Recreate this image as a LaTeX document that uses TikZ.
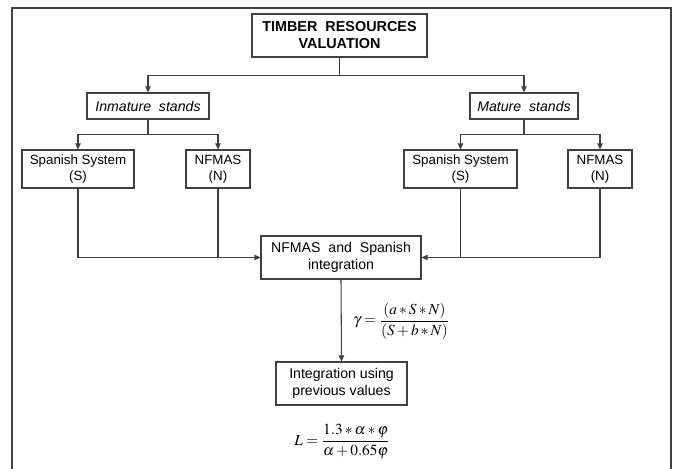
\documentclass[tikz,border=0pt]{standalone}
\usepackage{mathptmx}
\usepackage{fontspec}
\setsansfont{Liberation Sans}
\usetikzlibrary{arrows.meta}
\definecolor{linec}{HTML}{404040}
\tikzset{
  box/.style={draw=linec, line width=0.8pt, fill=white, inner sep=0pt, align=center,
    font=\sffamily\fontsize{10.6}{12.75}\selectfont, text=black},
  sbox/.style={box, font=\sffamily\fontsize{10}{12}\selectfont},
  conn/.style={draw=linec, line width=0.8pt},
  arr/.style={conn, -{Triangle[length=4.5pt,width=4pt]}},
  frm/.style={draw=linec, line width=1pt},
  formula/.style={inner sep=0pt, font=\fontsize{11.5}{13}\selectfont}
}
\begin{document}
\begin{tikzpicture}[x=0.75pt,y=-0.75pt]
\useasboundingbox (0,0) rectangle (673,468);
% frame
\coordinate (f1) at (12,470);
\coordinate (f2) at (12,8);
\coordinate (f3) at (671,8);
\coordinate (f4) at (671,470);
\draw[frm] (f1) -- (f2) -- (f3) -- (f4);
% nodes
\node[box, font=\sffamily\bfseries\fontsize{10.8}{12.75}\selectfont, minimum width=131.25pt, minimum height=32.25pt] (title) at (339.5,35.5) {TIMBER\ \ RESOURCES\\VALUATION};
\node[box, minimum width=91.5pt, minimum height=19.5pt] (inm) at (148,106) {\itshape Inmature\ \ stands};
\node[box, minimum width=81pt, minimum height=19.5pt] (mat) at (524,106) {\itshape Mature\ \ stands};
\node[sbox, minimum width=84pt, minimum height=28.5pt] (spL) at (78,169) {Spanish System\\(S)};
\node[sbox, minimum width=48pt, minimum height=28.5pt] (nfL) at (218,169) {NFMAS\\(N)};
\node[sbox, minimum width=84.75pt, minimum height=28.5pt] (spR) at (460.5,169) {Spanish System\\(S)};
\node[sbox, minimum width=48pt, minimum height=28.5pt] (nfR) at (600,169) {NFMAS\\(N)};
\node[box, minimum width=120pt, minimum height=32.25pt] (integ) at (341,257.5) {NFMAS\ \ and\ \ Spanish\\integration};
\node[box, minimum width=98.25pt, minimum height=32.25pt] (prev) at (341.5,383.5) {Integration using\\previous values};
\node[formula, anchor=west] (gam) at (353,321) {$\displaystyle\gamma=\frac{(a*S*N)}{(S+b*N)}$};
\node[formula] (Lf) at (342,442) {$\displaystyle L=\frac{1.3*\alpha*\varphi}{\alpha+0.65\varphi}$};
% connectors
\draw[arr] (title.south) -- ++(0,18) -| (inm.north);
\draw[arr] (title.south) -- ++(0,18) -| (mat.north);
\draw[arr] (inm.south) -- ++(0,15) -| (spL.north);
\draw[arr] (inm.south) -- ++(0,15) -| (nfL.north);
\draw[arr] (mat.south) -- ++(0,15) -| (spR.north);
\draw[arr] (mat.south) -- ++(0,15) -| (nfR.north);
\draw[arr] (spL.south) |- (integ.west);
\draw[conn] (nfL.south) -- (nfL.south |- integ.west);
\draw[arr] (nfR.south) |- (integ.east);
\draw[conn] (spR.south) -- (spR.south |- integ.east);
\draw[arr] (integ.south) -- (prev.north);
\end{tikzpicture}
\end{document}
